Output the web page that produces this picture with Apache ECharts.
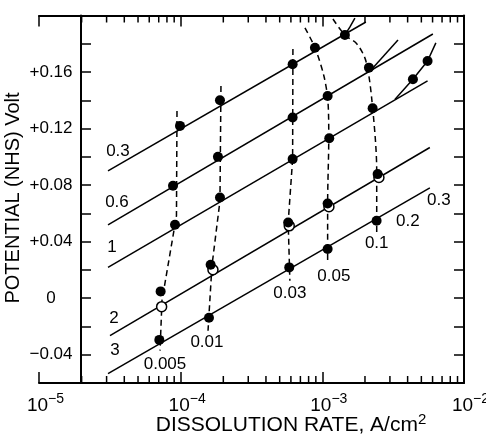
<!DOCTYPE html>
<html><head><meta charset="utf-8">
<script src="https://cdn.jsdelivr.net/npm/echarts@6/dist/echarts.min.js"></script>
<style>html,body{margin:0;padding:0;background:#fff}#c{width:486px;height:443px}</style>
</head><body><div id="c"></div>
<script>
// ---------- data (x = dissolution rate A/cm2, y = potential V) ----------
const xTickExponents = [-5, -4, -3, -2];
const xMinorTicks = [2e-5,3e-5,4e-5,5e-5,6e-5,7e-5,8e-5,9e-5,
                     2e-4,3e-4,4e-4,5e-4,6e-4,7e-4,8e-4,9e-4,
                     2e-3,3e-3,4e-3,5e-3,6e-3,7e-3,8e-3,9e-3];
const yTickValues = [-0.04, 0, 0.04, 0.08, 0.12, 0.16];
const yTickLabels = ['\u22120.04', '0', '+0.04', '+0.08', '+0.12', '+0.16'];

// solid Tafel lines
const line03 = [[3.07e-5, 0.0901], [2.03e-3, 0.1954]];
const line06 = [[3.07e-5, 0.0519], [6.03e-3, 0.1869]];
const line1  = [[3.07e-5, 0.0218], [5.53e-3, 0.1537]];
const line2  = [[3.17e-5, -0.0265], [5.74e-3, 0.1066]];
const line3  = [[3.07e-5, -0.0534], [5.74e-3, 0.0781]];
// upward branches
const branch03 = [[1.443e-3, 0.1862], [1.567e-3, 0.1919], [1.698e-3, 0.1982]];
const branch06 = [[2.24e-3, 0.1622], [3.42e-3, 0.1827]];
const branch1  = [[3.25e-3, 0.1406], [4.36e-3, 0.1549], [5.53e-3, 0.1678], [6.33e-3, 0.1806]];

// dashed iso-curves
const dash005 = [[9.42e-5, 0.1325], [9.34e-5, 0.0583], [7.38e-5, -0.0018], [7.15e-5, -0.0371]];
const dash001 = [[1.925e-4, 0.1502], [1.894e-4, 0.0689], [1.663e-4, 0.023], [1.56e-4, -0.023]];
const dash003 = [[6.2e-4, 0.1763], [6.17e-4, 0.0984], [5.74e-4, 0.0536], [5.9e-4, 0.0124]];
const dash005b = [[7.54e-4, 0.1912], [8.87e-4, 0.1772], [1.026e-3, 0.1572], [1.095e-3, 0.1396], [1.11e-3, 0.1132], [1.09e-3, 0.067], [1.09e-3, 0.0265]];
const dash01 = [[1.188e-3, 0.1975], [1.443e-3, 0.1862], [1.754e-3, 0.1799], [2.03e-3, 0.1678], [2.24e-3, 0.1396], [2.42e-3, 0.0901], [2.42e-3, 0.0463]];

// measured points
const filledPts = [
  [9.89e-5, 0.1219], [8.83e-5, 0.0795], [9.12e-5, 0.0519], [7.22e-5, 0.0048], [7.07e-5, -0.0295],
  [1.894e-4, 0.1401], [1.833e-4, 0.1000], [1.894e-4, 0.0712], [1.628e-4, 0.0237], [1.584e-4, -0.0138],
  [6.17e-4, 0.1655], [6.17e-4, 0.1278], [6.17e-4, 0.0984], [5.74e-4, 0.0536], [5.84e-4, 0.0218],
  [8.87e-4, 0.1772], [1.09e-3, 0.1431], [1.119e-3, 0.1132], [1.09e-3, 0.0670], [1.09e-3, 0.0348],
  [1.443e-3, 0.1862], [2.133e-3, 0.1631], [2.265e-3, 0.1344], [2.457e-3, 0.0878], [2.416e-3, 0.0548],
  [4.36e-3, 0.1549], [5.53e-3, 0.1678]
];
const openPts = [[7.34e-5, -0.0060], [1.69e-4, 0.0201], [5.84e-4, 0.0512], [1.113e-3, 0.0647], [2.508e-3, 0.0854]];

// annotation texts and anchors
const lineLabels = ['0.3', '0.6', '1', '2', '3'];
const lineLabelAt = [[3.61e-5, 0.1042], [3.55e-5, 0.0675], [3.27e-5, 0.0357], [3.38e-5, -0.0145], [3.44e-5, -0.0371]];
const curveLabels = ['0.005', '0.01', '0.03', '0.05', '0.1', '0.2', '0.3'];
const curveLabelAt = [[7.75e-5, -0.0470], [1.533e-4, -0.0314], [5.9e-4, 0.0032], [1.207e-3, 0.0152], [2.42e-3, 0.0385], [4.02e-3, 0.0541], [6.65e-3, 0.0689]];

// ---------- chart ----------
const FONT = '"Liberation Sans", Arial, sans-serif';
const INK = '#000';
const Y_MIN = -0.06, Y_MAX = 0.2;

const solid = (d) => ({type:'line', data:d, showSymbol:false, silent:true, clip:false, z:2,
  lineStyle:{color:INK, width:1.5, opacity:1}});
const dashed = (d, s) => ({type:'line', data:d, showSymbol:false, silent:true, clip:false, z:2, smooth:s||0,
  lineStyle:{color:INK, width:1.5, type:[6,4], opacity:1}});

const xAxisBase = {
  type:'log', logBase:10, min:1e-5, max:1e-2, gridIndex:0,
  axisLine:{show:true, onZero:false, lineStyle:{color:INK, width:2}},
  axisTick:{show:true, inside:true, length:11, lineStyle:{color:INK, width:1.5}},
  splitLine:{show:false}, minorTick:{show:false}, minorSplitLine:{show:false}
};

const chart = echarts.init(document.getElementById('c'), null, {renderer:'canvas'});
chart.setOption({
  animation:false,
  backgroundColor:'#fff',
  grid:{left:39, right:22, top:15.5, bottom:60, containLabel:false, outerBoundsMode:'none'},
  xAxis:[
    Object.assign({}, xAxisBase, {position:'bottom',
      axisLabel:{show:true, margin:9, color:INK, fontFamily:FONT,
        formatter:(v) => {
          const e = Math.round(Math.log10(v));
          if (xTickExponents.indexOf(e) < 0) return '';
          return '{sp|}{b|10}{s|\u2212' + (-e) + '}';
        },
        rich:{
          sp:{width:13},
          b:{fontSize:19, fontFamily:FONT, color:INK, lineHeight:27},
          s:{fontSize:14, fontFamily:FONT, color:INK, verticalAlign:'top', lineHeight:14}
        }}}),
    Object.assign({}, xAxisBase, {position:'top', axisLabel:{show:false}})
  ],
  yAxis:[
    {type:'value', min:Y_MIN, max:Y_MAX, interval:0.02, position:'left', offset:-42,
     axisLine:{show:true, onZero:false, lineStyle:{color:INK, width:2}},
     axisTick:{show:true, inside:true, length:10, lineStyle:{color:INK, width:1.5}},
     axisLabel:{show:true, margin:30, align:'center', color:INK, fontSize:17, fontFamily:FONT,
       showMinLabel:true, showMaxLabel:true,
       formatter:(v) => {
         for (let i = 0; i < yTickValues.length; i++) {
           if (Math.abs(v - yTickValues[i]) < 1e-6) return yTickLabels[i];
         }
         return '';
       }},
     splitLine:{show:false}},
    {type:'value', min:Y_MIN, max:Y_MAX, interval:0.02, position:'right',
     axisLine:{show:true, onZero:false, lineStyle:{color:INK, width:2}},
     axisTick:{show:true, inside:true, length:10, lineStyle:{color:INK, width:1.5}},
     axisLabel:{show:false}, splitLine:{show:false}}
  ],
  graphic:[
    {type:'text', x:291, y:425, z:10, silent:true,
     style:{text:'{n|DISSOLUTION RATE, A/cm}{s|2}', align:'center', verticalAlign:'middle',
       rich:{
         n:{fontSize:21, fontFamily:FONT, fill:INK, color:INK, lineHeight:26},
         s:{fontSize:15, fontFamily:FONT, fill:INK, color:INK, verticalAlign:'top', lineHeight:15}
       }}},
    {type:'text', x:13, y:198, rotation:Math.PI/2, z:10, silent:true,
     style:{text:'POTENTIAL (NHS) Volt', align:'center', verticalAlign:'middle',
       fontSize:20, fontFamily:FONT, fill:INK}}
  ],
  series:[
    solid(line03), solid(line06), solid(line1), solid(line2), solid(line3),
    solid(branch03), solid(branch06), solid(branch1),
    dashed(dash005), dashed(dash001), dashed(dash003), dashed(dash005b, 0.3), dashed(dash01, 0.3),
    {type:'scatter', data:openPts, symbol:'circle', symbolSize:10, silent:true, z:3,
     itemStyle:{color:'#fff', borderColor:INK, borderWidth:1.5, opacity:1}},
    {type:'scatter', data:filledPts, symbol:'circle', symbolSize:10, silent:true, z:4,
     itemStyle:{color:INK, opacity:1}},
    {type:'scatter', silent:true, z:5, symbolSize:1, itemStyle:{color:'rgba(0,0,0,0)', opacity:1},
     data:lineLabelAt.map((p, i) => [p[0], p[1], lineLabels[i]]).concat(
          curveLabelAt.map((p, i) => [p[0], p[1], curveLabels[i]])),
     label:{show:true, position:'inside', color:INK, fontSize:17, fontFamily:FONT,
       formatter:(p) => p.data[2]}},
    {type:'custom', silent:true, z:6, clip:false,
     data:xMinorTicks.map(v => [v, Y_MIN]),
     renderItem:(params, api) => {
       const v = api.value(0);
       const pb = api.coord([v, Y_MIN]);
       const pt = api.coord([v, Y_MAX]);
       return {type:'group', children:[
         {type:'line', shape:{x1:pb[0], y1:pb[1], x2:pb[0], y2:pb[1]-7}, style:{stroke:INK, lineWidth:1.5}},
         {type:'line', shape:{x1:pt[0], y1:pt[1], x2:pt[0], y2:pt[1]+7}, style:{stroke:INK, lineWidth:1.5}}
       ]};
     }}
  ]
});
</script></body></html>
